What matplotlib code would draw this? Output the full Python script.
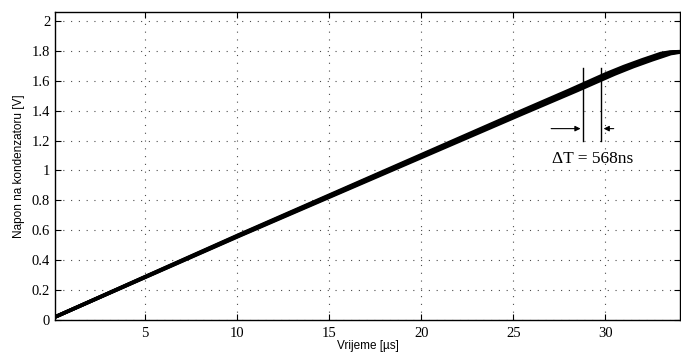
import matplotlib
matplotlib.use("Agg")
import matplotlib.pyplot as plt
import numpy as np

# capacitor voltage trace
t_us = [0.1, 5, 10, 15, 20, 25, 28, 29, 30, 31, 32, 32.6, 33, 33.5, 34.1]
v_cap = [0.02, 0.29, 0.565, 0.835, 1.105, 1.375, 1.535, 1.59, 1.645, 1.695, 1.74, 1.765, 1.782, 1.792, 1.795]

# jitter between traces, in us
delta_t_us = 0.568
marker_x = [28.8, 29.75]
x_ticks = [5, 10, 15, 20, 25, 30]
y_ticks = [0, 0.2, 0.4, 0.6, 0.8, 1, 1.2, 1.4, 1.6, 1.8, 2]

SERIF = ["Liberation Serif", "DejaVu Serif"]
SANS = ["Liberation Sans", "DejaVu Sans"]

fig = plt.figure(figsize=(6.81, 3.56), dpi=100)
ax = fig.add_axes([55 / 681, 1 - 320 / 356, 625 / 681, 308 / 356])

t = np.array(t_us)
v = np.array(v_cap)
# draw a few overlapping traces, spreading out towards the end
for k in np.linspace(0, 1, 4):
    ax.plot(t + k * delta_t_us * t / t[-1], v, color="k", lw=2.6,
            solid_capstyle="butt")

for xm in marker_x:
    ax.plot([xm, xm], [1.2, 1.685], color="k", lw=1.0)

ax.annotate("", xy=(marker_x[0], 1.28), xytext=(26.9, 1.28),
            arrowprops=dict(arrowstyle="-|>", color="k", lw=0.8,
                            mutation_scale=8))
ax.annotate("", xy=(marker_x[1], 1.28), xytext=(30.6, 1.28),
            arrowprops=dict(arrowstyle="-|>", color="k", lw=0.8,
                            mutation_scale=8))
ax.text(29.3, 1.08, "ΔT = 568ns", family=SERIF, fontsize=12.5,
        ha="center", va="center")

ax.set_xlim(0.1, 34.05)
ax.set_ylim(0, 2.06)
ax.set_xticks(x_ticks)
ax.set_yticks(y_ticks)
ax.set_yticklabels([f"{y:g}" for y in y_ticks])
for lab in ax.get_xticklabels() + ax.get_yticklabels():
    lab.set_family(SERIF)
    lab.set_fontsize(10.5)
ax.tick_params(direction="in", length=4, width=0.8, top=True, right=True)
ax.tick_params(axis="x", pad=5)
ax.grid(True, linestyle=(0, (1, 6)), color="0.3", lw=0.8)
for s in ax.spines.values():
    s.set_linewidth(1.0)

ax.set_xlabel("Vrijeme [µs]", family=SANS, fontsize=8.5, labelpad=0)
ax.set_ylabel("Napon na kondenzatoru [V]", family=SANS, fontsize=8.5, labelpad=5)

fig.savefig("out.png", dpi=100)
